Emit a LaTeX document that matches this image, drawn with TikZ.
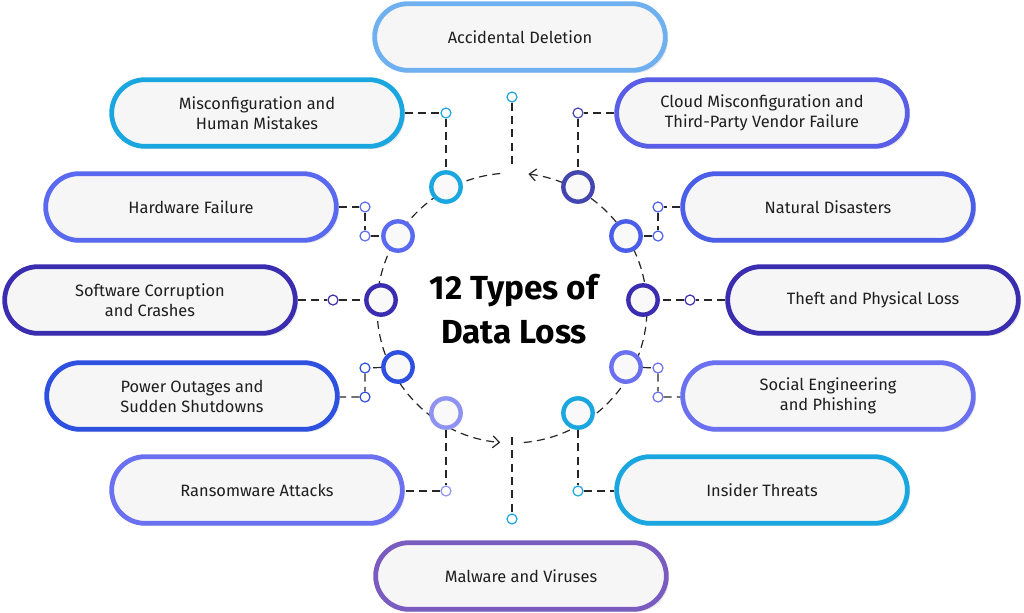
\documentclass[tikz,border=0pt]{standalone}
\usepackage{fontspec}
\setmainfont{Fira Sans}
\usetikzlibrary{shadows,arrows.meta}
\definecolor{cA}{HTML}{6FB0F0}
\definecolor{cyanb}{HTML}{1AA7E0}
\definecolor{indig}{HTML}{4446B0}
\definecolor{cloudc}{HTML}{5A5EE6}
\definecolor{blueA}{HTML}{5A6AF0}
\definecolor{blueB}{HTML}{4A5EE8}
\definecolor{deepv}{HTML}{3B2DB0}
\definecolor{royal}{HTML}{2D50E0}
\definecolor{lilac}{HTML}{6A70F0}
\definecolor{pale}{HTML}{8E92F0}
\definecolor{purp}{HTML}{7A5CC0}
\definecolor{txt}{HTML}{1E1E1E}
\begin{document}
\begin{tikzpicture}[x=0.75pt,y=-0.75pt,
    pill/.style={draw=#1,line width=3.6pt,fill=gray!7,rounded corners=25pt,
        minimum width=218pt,minimum height=50pt,align=center,text=txt,
        font=\fontsize{12.3}{15}\selectfont,
        drop shadow={opacity=0.2,shadow xshift=2pt,shadow yshift=-2pt}},
    ring/.style={draw=#1,line width=3.3pt,circle,fill=gray!5,minimum size=22pt,inner sep=0pt},
    dot/.style={draw=#1,line width=0.9pt,circle,fill=white,minimum size=7.5pt,inner sep=0pt},
    link/.style={dash pattern=on 6pt off 4pt,line width=0.9pt,gray!30!black}]
    \useasboundingbox (0,0) rectangle (1024,612);

    % outer boxes
    \node[pill=cA] (acc) at (520,37) {Accidental Deletion};
    \node[pill=cyanb] (mis) at (257,113) {Misconfiguration and\\Human Mistakes};
    \node[pill=cloudc] (cloud) at (762,113) {Cloud Misconfiguration and\\Third-Party Vendor Failure};
    \node[pill=blueA] (hard) at (191,207) {Hardware Failure};
    \node[pill=blueB] (nat) at (828,207) {Natural Disasters};
    \node[pill=deepv] (soft) at (150,300) {Software Corruption\\and Crashes};
    \node[pill=deepv] (theft) at (873,300) {Theft and Physical Loss};
    \node[pill=royal] (power) at (192,396) {Power Outages and\\Sudden Shutdowns};
    \node[pill=lilac] (soc) at (828,396) {Social Engineering\\and Phishing};
    \node[pill=lilac] (ransom) at (257,490) {Ransomware Attacks};
    \node[pill=cyanb] (ins) at (762,490) {Insider Threats};
    \node[pill=purp] (mal) at (521,576) {Malware and Viruses};

    % dashed ring with arrows
    \draw[link,-{Straight Barb[length=5pt,width=9pt]}] (512,308) ++(-95:135) arc[start angle=-95,end angle=-265,radius=135];
    \draw[link,-{Straight Barb[length=5pt,width=9pt]}] (512,308) ++(85:135) arc[start angle=85,end angle=-83,radius=135];

    % ring nodes
    \node[ring=cyanb] (r1) at (446,187) {};
    \node[ring=indig] (r2) at (578,187) {};
    \node[ring=blueA] (r3) at (398,236) {};
    \node[ring=blueB] (r4) at (626,236) {};
    \node[ring=deepv] (r5) at (381,300) {};
    \node[ring=deepv] (r6) at (643,300) {};
    \node[ring=royal] (r7) at (398,367) {};
    \node[ring=lilac] (r8) at (626,367) {};
    \node[ring=pale] (r9) at (446,413) {};
    \node[ring=cyanb] (r10) at (578,413) {};

    % small connector dots
    \node[dot=cyanb] (top) at (512,97) {};
    \node[dot=cyanb] (bot) at (512,519) {};
    \node[dot=cyanb] (d1) at (446,113) {};
    \node[dot=indig] (d2) at (578,113) {};
    \node[dot=blueA] (d3a) at (365,207) {};
    \node[dot=blueA] (d3b) at (365,236) {};
    \node[dot=blueB] (d4a) at (658,207) {};
    \node[dot=blueB] (d4b) at (658,236) {};
    \node[dot=deepv] (d5) at (333,300) {};
    \node[dot=deepv] (d6) at (690,300) {};
    \node[dot=royal] (d7a) at (365,368) {};
    \node[dot=royal] (d7b) at (365,397) {};
    \node[dot=lilac] (d8a) at (658,368) {};
    \node[dot=lilac] (d8b) at (658,397) {};
    \node[dot=pale] (d9) at (446,491) {};
    \node[dot=cyanb] (d10) at (578,491) {};
    \coordinate (ctop) at (512,166);
    \coordinate (cbot) at (512,437);

    % connectors
    \draw[link] (top) -- (ctop);
    \draw[link] (cbot) -- (bot);
    \draw[link] (mis.east) -- (d1) -- (r1);
    \draw[link] (cloud.west) -- (d2) -- (r2);
    \draw[link] (hard.east) -- (d3a) -- (d3b) -- (r3);
    \draw[link] (nat.west) -- (d4a) -- (d4b) -- (r4);
    \draw[link] (soft.east) -- (d5) -- (r5);
    \draw[link] (theft.west) -- (d6) -- (r6);
    \draw[link] (r7) -- (d7a) -- (d7b) -- (power.east |- d7b);
    \draw[link] (r8) -- (d8a) -- (d8b) -- (soc.west |- d8b);
    \draw[link] (r9) -- (d9) -- (ransom.east |- d9);
    \draw[link] (r10) -- (d10) -- (ins.west |- d10);

    \node[font=\fontsize{25}{33}\selectfont\bfseries,align=center,text=black] (title) at (514,309) {12 Types of\\Data Loss};
\end{tikzpicture}
\end{document}
